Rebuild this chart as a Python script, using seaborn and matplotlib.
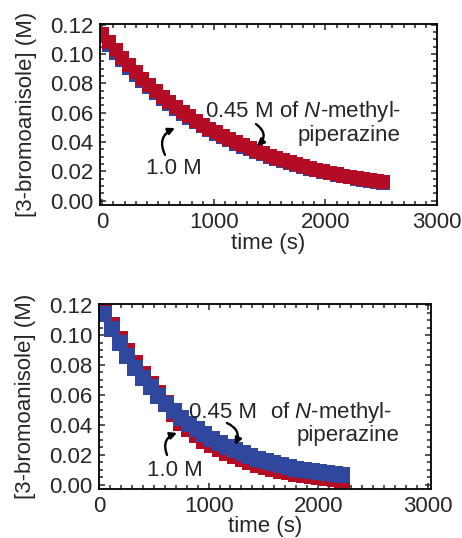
import matplotlib
matplotlib.use("Agg")
import matplotlib.pyplot as plt
import seaborn as sns
import pandas as pd

# top panel: 0.45 M (red) drawn over 1.0 M (blue)
t_top = list(range(0, 2521, 60))
red_top = [0.1140, 0.1081, 0.1026, 0.0973, 0.0923, 0.0876, 0.0831, 0.0788, 0.0748,
           0.0709, 0.0673, 0.0638, 0.0605, 0.0574, 0.0545, 0.0517, 0.0490, 0.0465,
           0.0441, 0.0419, 0.0397, 0.0377, 0.0357, 0.0339, 0.0322, 0.0305, 0.0289,
           0.0275, 0.0261, 0.0247, 0.0235, 0.0223, 0.0211, 0.0200, 0.0190, 0.0180,
           0.0171, 0.0162, 0.0154, 0.0146, 0.0139, 0.0131, 0.0125]
blue_top = [0.1122, 0.1063, 0.1008, 0.0956, 0.0906, 0.0860, 0.0815, 0.0773, 0.0733,
            0.0695, 0.0659, 0.0625, 0.0593, 0.0562, 0.0533, 0.0506, 0.0480, 0.0455,
            0.0432, 0.0410, 0.0389, 0.0369, 0.0350, 0.0332, 0.0315, 0.0299, 0.0283,
            0.0269, 0.0255, 0.0242, 0.0230, 0.0218, 0.0207, 0.0196, 0.0186, 0.0176,
            0.0167, 0.0158, 0.0150, 0.0142, 0.0135, 0.0128, 0.0121]

# bottom panel: 0.45 M (blue) drawn over 1.0 M (red)
t_bot = list(range(50, 2221, 70))
red_bot = [0.1150, 0.1065, 0.0975, 0.0890, 0.0810, 0.0740, 0.0675, 0.0610, 0.0545,
           0.0470, 0.0415, 0.0370, 0.0330, 0.0295, 0.0265, 0.0238, 0.0213, 0.0190,
           0.0170, 0.0152, 0.0136, 0.0121, 0.0108, 0.0096, 0.0085, 0.0075, 0.0066,
           0.0058, 0.0050, 0.0043, 0.0037, 0.0031]
blue_bot = [0.1140, 0.1038, 0.0945, 0.0860, 0.0783, 0.0713, 0.0650, 0.0591, 0.0538,
            0.0490, 0.0446, 0.0406, 0.0370, 0.0337, 0.0307, 0.0279, 0.0254, 0.0232,
            0.0211, 0.0192, 0.0175, 0.0159, 0.0145, 0.0132, 0.0120, 0.0109, 0.0100,
            0.0091, 0.0083, 0.0077, 0.0072, 0.0068]

RED = "#b30c24"
BLUE = "#2f479c"
FS = 16

sns.set_style("ticks")
plt.rcParams["font.family"] = ["Liberation Sans", "DejaVu Sans"]
plt.rcParams["mathtext.fontset"] = "custom"
plt.rcParams["mathtext.rm"] = "Liberation Sans"
plt.rcParams["mathtext.it"] = "Liberation Sans:italic"
plt.rcParams["font.size"] = FS

fig = plt.figure(figsize=(4.62, 5.38), dpi=100)
ax1 = fig.add_axes([0.2165, 0.619, 0.7294, 0.3364])
ax2 = fig.add_axes([0.2143, 0.0911, 0.7186, 0.3439])

top = pd.DataFrame({"t": t_top, "red": red_top, "blue": blue_top})
bot = pd.DataFrame({"t": t_bot, "red": red_bot, "blue": blue_bot})

sns.scatterplot(data=top, x="t", y="blue", marker="s", s=105, color=BLUE,
                linewidth=0, ax=ax1)
sns.scatterplot(data=top, x="t", y="red", marker="s", s=105, color=RED,
                linewidth=0, ax=ax1)
sns.scatterplot(data=bot, x="t", y="red", marker="s", s=120, color=RED,
                linewidth=0, ax=ax2)
sns.scatterplot(data=bot, x="t", y="blue", marker="s", s=120, color=BLUE,
                linewidth=0, ax=ax2)

ax1.set_xlim(-20, 3000)
ax1.set_ylim(-0.003, 0.1205)
ax2.set_xlim(0, 3030)
ax2.set_ylim(-0.0027, 0.1207)

for ax in (ax1, ax2):
    ax.set_xticks([0, 1000, 2000, 3000])
    ax.set_yticks([0.00, 0.02, 0.04, 0.06, 0.08, 0.10, 0.12])
    ax.set_yticklabels(["0.00", "0.02", "0.04", "0.06", "0.08", "0.10", "0.12"])
    ax.set_xticks(range(0, 3001, 100), minor=True)
    ax.set_yticks([i * 0.005 for i in range(25)], minor=True)
    ax.tick_params(which="both", direction="in", top=True, right=True,
                   width=1.1, labelsize=FS)
    ax.tick_params(which="major", length=4, pad=5)
    ax.tick_params(which="minor", length=3)
    for sp in ax.spines.values():
        sp.set_linewidth(1.3)
        sp.set_color("black")
    ax.set_ylabel("[3-bromoanisole] (M)", fontsize=FS, labelpad=9)

ax1.set_xlabel("time (s)", fontsize=FS, labelpad=0)
ax2.set_xlabel("time (s)", fontsize=FS, labelpad=-1)

arrow = dict(arrowstyle="-|>", color="black", lw=1.7, mutation_scale=10,
             shrinkA=0, shrinkB=0)

# top annotations
ax1.text(1799, 0.061, "0.45 M of $\\it{N}$-methyl-", ha="center", va="center",
         fontsize=FS)
ax1.text(2207, 0.0447, "piperazine", ha="center", va="center", fontsize=FS)
ax1.text(639, 0.022, "1.0 M", ha="center", va="center", fontsize=FS)
ax1.annotate("", xy=(652, 0.0495), xytext=(562, 0.0312),
             arrowprops=dict(connectionstyle="arc3,rad=-0.5", **arrow))
ax1.annotate("", xy=(1387, 0.0373), xytext=(1378, 0.0522),
             arrowprops=dict(connectionstyle="arc3,rad=-0.6", **arrow))

# bottom annotations
ax2.text(1136, 0.0483, "0.45 M", ha="center", va="center", fontsize=FS)
ax2.text(2122, 0.0483, "of $\\it{N}$-methyl-", ha="center", va="center",
         fontsize=FS)
ax2.text(2268, 0.0333, "piperazine", ha="center", va="center", fontsize=FS)
ax2.text(694, 0.0093, "1.0 M", ha="center", va="center", fontsize=FS)
ax2.annotate("", xy=(712, 0.0347), xytext=(621, 0.0200),
             arrowprops=dict(connectionstyle="arc3,rad=-0.5", **arrow))
ax2.annotate("", xy=(1241, 0.0267), xytext=(1168, 0.0413),
             arrowprops=dict(connectionstyle="arc3,rad=-0.5", **arrow))

fig.savefig("out.png", dpi=100)
